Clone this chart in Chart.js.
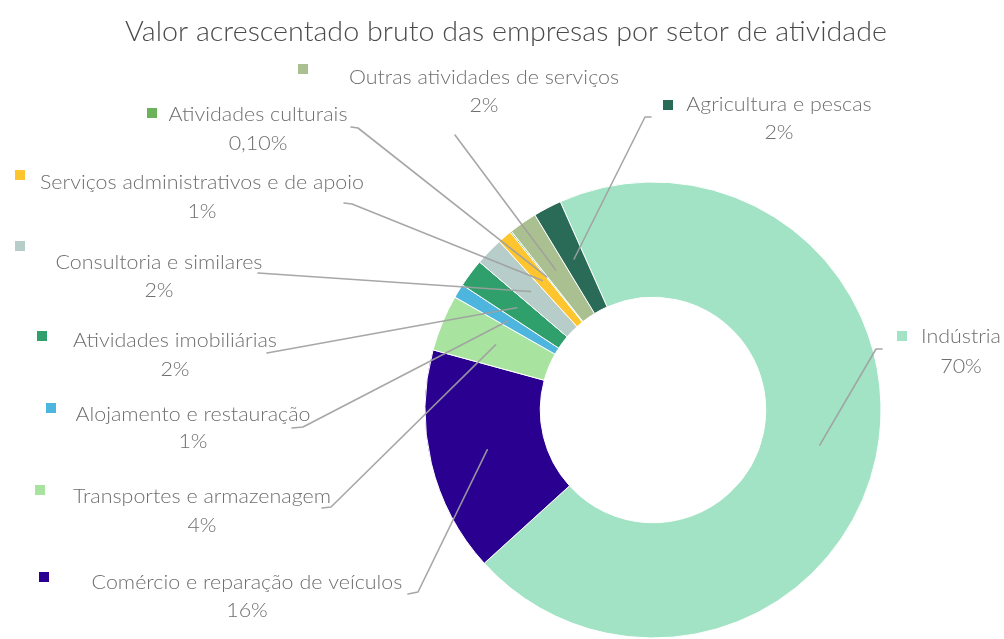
<!DOCTYPE html>
<html lang="pt">
<head>
<meta charset="utf-8">
<title>Valor acrescentado bruto das empresas por setor de atividade</title>
<script src="https://cdn.jsdelivr.net/npm/chart.js@4.4.1/dist/chart.umd.min.js"></script>
<style>
  html, body { margin: 0; padding: 0; background: #ffffff; }
  #wrap { width: 1004px; height: 639px; position: relative; }
  canvas { display: block; }
</style>
</head>
<body>
<div id="wrap"><canvas id="chart" width="1004" height="639"></canvas></div>
<script>
// ---- data ----
const chartTitle = 'Valor acrescentado bruto das empresas por setor de atividade';

const sectors = [
  'Indústria',
  'Comércio e reparação de veículos',
  'Transportes e armazenagem',
  'Alojamento e restauração',
  'Atividades imobiliárias',
  'Consultoria e similares',
  'Serviços administrativos e de apoio',
  'Atividades culturais',
  'Outras atividades de serviços',
  'Agricultura e pescas'
];

// share of gross value added, in %
const shares = [70, 16, 4, 1, 2, 2, 1, 0.1, 2, 2];

const sectorColors = [
  '#A1E3C4', '#2A0090', '#A8E4A0', '#4DB5DE', '#2FA06B',
  '#B7CDC9', '#FFC52E', '#6CB25A', '#ABC090', '#2A6B57'
];

// ---- callout layout: text centre, name / value line y, swatch centre, label-side leader points ----
const callouts = [
  { x: 961, y: 337, vy: 367, sx: 902, sy: 336, lead: [[882, 349], [876, 349]] },
  { x: 247, y: 583, vy: 611, sx: 44,  sy: 577, lead: [[408, 594], [418, 592]] },
  { x: 202, y: 497, vy: 526, sx: 40,  sy: 490, lead: [[322, 508], [331, 507]] },
  { x: 193, y: 415, vy: 442, sx: 51,  sy: 408, lead: [[292, 428], [303, 427]] },
  { x: 175, y: 341, vy: 370, sx: 42,  sy: 336, lead: [[267, 353]] },
  { x: 159, y: 263, vy: 291, sx: 20,  sy: 246, lead: [[258, 273]] },
  { x: 202, y: 183, vy: 212, sx: 20,  sy: 175, lead: [[344, 203], [352, 204]] },
  { x: 258, y: 115, vy: 144, sx: 152, sy: 113, lead: [[351, 127], [358, 128]] },
  { x: 484, y: 78,  vy: 106, sx: 303, sy: 69,  lead: [[455, 135]] },
  { x: 779, y: 105, vy: 133, sx: 668, sy: 105, lead: [[651, 117], [645, 117]] }
];

const FONT_FAMILY = 'Lato, "Open Sans", "DejaVu Sans", sans-serif';
const LABEL_FONT = '300 20px ' + FONT_FAMILY;
const TITLE_FONT = '300 27px ' + FONT_FAMILY;
const LABEL_COLOR = '#6e6e6e';
const TITLE_COLOR = '#4a4a4a';
const LEADER_COLOR = 'rgba(160,160,160,0.92)';

function formatShare(v) {
  return (v < 1 ? v.toFixed(2).replace('.', ',') : v.toFixed(0)) + '%';
}

// draws centred text, adjusted horizontally by `scale`
function fitText(ctx, text, cx, cy, scale) {
  ctx.save();
  ctx.translate(cx, cy);
  ctx.scale(scale, 1);
  ctx.fillText(text, 0, 0);
  ctx.restore();
}

const calloutPlugin = {
  id: 'sectorCallouts',
  afterDatasetsDraw(chart) {
    const ctx = chart.ctx;
    const arcs = chart.getDatasetMeta(0).data;
    ctx.save();

    // leader lines from each slice to its label
    ctx.strokeStyle = LEADER_COLOR;
    ctx.lineWidth = 1.6;
    ctx.lineJoin = 'round';
    ctx.lineCap = 'round';
    arcs.forEach((arc, i) => {
      const p = arc.tooltipPosition();
      const pts = callouts[i].lead;
      ctx.beginPath();
      ctx.moveTo(pts[0][0], pts[0][1]);
      for (let k = 1; k < pts.length; k++) ctx.lineTo(pts[k][0], pts[k][1]);
      ctx.lineTo(p.x, p.y);
      ctx.stroke();
    });

    // label text and swatches
    ctx.font = LABEL_FONT;
    ctx.textAlign = 'center';
    ctx.textBaseline = 'middle';
    const ref = ctx.measureText('Serviços administrativos e de apoio').width;
    const labelScale = Math.max(0.85, Math.min(1.15, 324 / ref));
    sectors.forEach((name, i) => {
      const c = callouts[i];
      ctx.fillStyle = sectorColors[i];
      ctx.fillRect(c.sx - 5, c.sy - 5, 10, 10);
      ctx.fillStyle = LABEL_COLOR;
      fitText(ctx, name, c.x, c.y, labelScale);
      fitText(ctx, formatShare(shares[i]), c.x, c.vy, labelScale);
    });

    // title
    ctx.font = TITLE_FONT;
    ctx.fillStyle = TITLE_COLOR;
    const tw = ctx.measureText(chartTitle).width;
    fitText(ctx, chartTitle, 506, 32, Math.max(0.85, Math.min(1.15, 762 / tw)));

    ctx.restore();
  }
};

new Chart(document.getElementById('chart'), {
  type: 'doughnut',
  data: {
    labels: sectors,
    datasets: [{
      data: shares,
      backgroundColor: sectorColors,
      borderColor: '#ffffff',
      borderWidth: 1,
      hoverOffset: 0,
      radius: 228,
      cutout: 113
    }]
  },
  options: {
    responsive: false,
    animation: false,
    events: [],
    rotation: -24,
    layout: { padding: { left: 302, top: 181, right: 0, bottom: 0 } },
    plugins: {
      legend: { display: false },
      title: { display: false },
      tooltip: { enabled: false }
    }
  },
  plugins: [calloutPlugin]
});
</script>
</body>
</html>
